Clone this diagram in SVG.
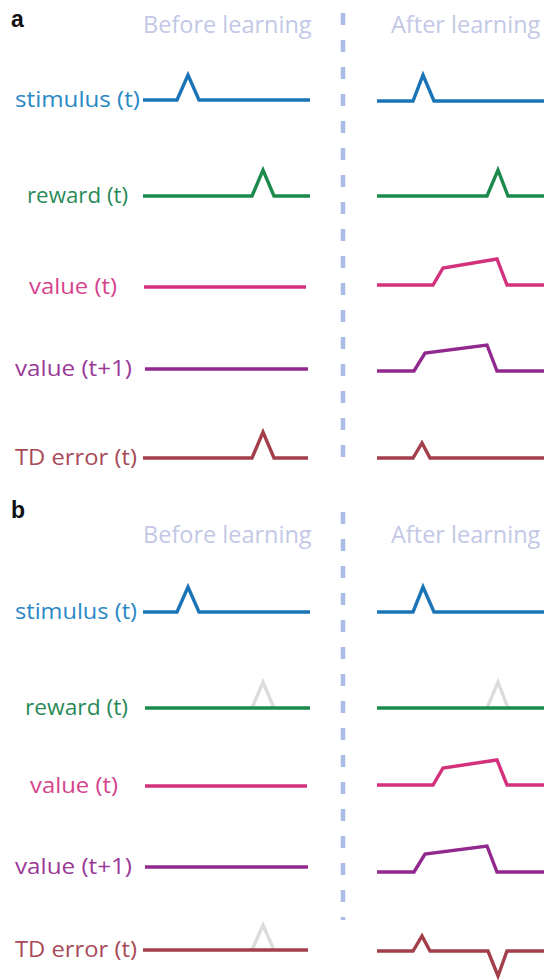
<svg xmlns="http://www.w3.org/2000/svg" width="544" height="980" viewBox="0 0 544 980">
<style>
text{font-family:"Open Sans","Noto Sans","Liberation Sans",sans-serif;font-size:21px}
.lab{text-anchor:end}
.head{fill:#c3c8e6;font-size:23.5px}
.pl{font-family:"Liberation Sans",Arial,sans-serif;font-weight:bold;font-size:23px;fill:#111}
.tr{fill:none;stroke-width:3.4;stroke-linejoin:miter;stroke-linecap:butt}
.ghost{fill:none;stroke:#dcdcdc;stroke-width:3.4}
.sti{stroke:#1b74b6}.sti-t{fill:#2a88c6}
.rew{stroke:#1b8a4c}.rew-t{fill:#2a8a58}
.v0{stroke:#d3317c}.v0-t{fill:#d4448c}
.v1{stroke:#90288e}.v1-t{fill:#9a3a97}
.td{stroke:#a33e4b}.td-t{fill:#a84a57}
.div{stroke:#a9bde6;stroke-width:4.5;stroke-dasharray:12 15}
</style>
<g id="divider">
<line class="div" x1="343" y1="13" x2="343" y2="471"/>
<line class="div" x1="343" y1="512" x2="343" y2="920"/>
</g>
<g id="panel-a">
<text class="pl" x="11" y="27">a</text>
<text class="head" x="143" y="33">Before learning</text>
<text class="head" x="391" y="33">After learning</text>
<g id="a-stimulus">
<text class="lab sti-t" x="140" y="107" textLength="125" lengthAdjust="spacingAndGlyphs">stimulus (t)</text>
<polyline class="tr sti" points="143,100 177,100 188,75 199,100 310,100"/>
<polyline class="tr sti" points="377,101 413,101 423,75 434,101 544,101"/>
</g>
<g id="a-reward">
<text class="lab rew-t" x="128" y="203" textLength="101" lengthAdjust="spacingAndGlyphs">reward (t)</text>
<polyline class="tr rew" points="143,196 252,196 263,170 274,196 310,196"/>
<polyline class="tr rew" points="377,196 487,196 498,170 508,196 544,196"/>
</g>
<g id="a-value">
<text class="lab v0-t" x="117" y="294" textLength="88" lengthAdjust="spacingAndGlyphs">value (t)</text>
<polyline class="tr v0" points="144,287 306,287"/>
<polyline class="tr v0" points="377,285 433,285 443,268 497,259 507,285 544,285"/>
</g>
<g id="a-value1">
<text class="lab v1-t" x="132" y="376" textLength="117" lengthAdjust="spacingAndGlyphs">value (t+1)</text>
<polyline class="tr v1" points="145,369 308,369"/>
<polyline class="tr v1" points="377,371 414,371 425,353 487,345 497,371 544,371"/>
</g>
<g id="a-td">
<text class="lab td-t" x="137" y="465" textLength="122" lengthAdjust="spacingAndGlyphs">TD error (t)</text>
<polyline class="tr td" points="143,458 252,458 263,432 274,458 308,458"/>
<polyline class="tr td" points="377,458 413,458 422,443 430,458 544,458"/>
</g>
</g>
<g id="panel-b">
<text class="pl" x="11" y="518">b</text>
<text class="head" x="143" y="543">Before learning</text>
<text class="head" x="391" y="543">After learning</text>
<g id="b-stimulus">
<text class="lab sti-t" x="137" y="619" textLength="122" lengthAdjust="spacingAndGlyphs">stimulus (t)</text>
<polyline class="tr sti" points="143,612 177,612 188,587 199,612 310,612"/>
<polyline class="tr sti" points="377,612 413,612 423,587 434,612 544,612"/>
</g>
<g id="b-reward">
<text class="lab rew-t" x="128" y="715" textLength="103" lengthAdjust="spacingAndGlyphs">reward (t)</text>
<polyline class="ghost" points="252,708 263,682 274,708"/>
<polyline class="ghost" points="487,708 498,682 508,708"/>
<polyline class="tr rew" points="145,708 310,708"/>
<polyline class="tr rew" points="377,708 544,708"/>
</g>
<g id="b-value">
<text class="lab v0-t" x="118" y="793" textLength="88" lengthAdjust="spacingAndGlyphs">value (t)</text>
<polyline class="tr v0" points="145,786 307,786"/>
<polyline class="tr v0" points="377,785 433,785 443,768 497,760 507,785 544,785"/>
</g>
<g id="b-value1">
<text class="lab v1-t" x="132" y="874" textLength="117" lengthAdjust="spacingAndGlyphs">value (t+1)</text>
<polyline class="tr v1" points="145,867 308,867"/>
<polyline class="tr v1" points="377,872 414,872 425,854 487,846 497,872 544,872"/>
</g>
<g id="b-td">
<text class="lab td-t" x="137" y="957" textLength="122" lengthAdjust="spacingAndGlyphs">TD error (t)</text>
<polyline class="ghost" points="252,950 263,925 274,950"/>
<polyline class="tr td" points="143,950 308,950"/>
<polyline class="tr td" points="377,951 413,951 422,936 430,951 488,951 498,976 507,951 544,951"/>
</g>
</g>
</svg>
